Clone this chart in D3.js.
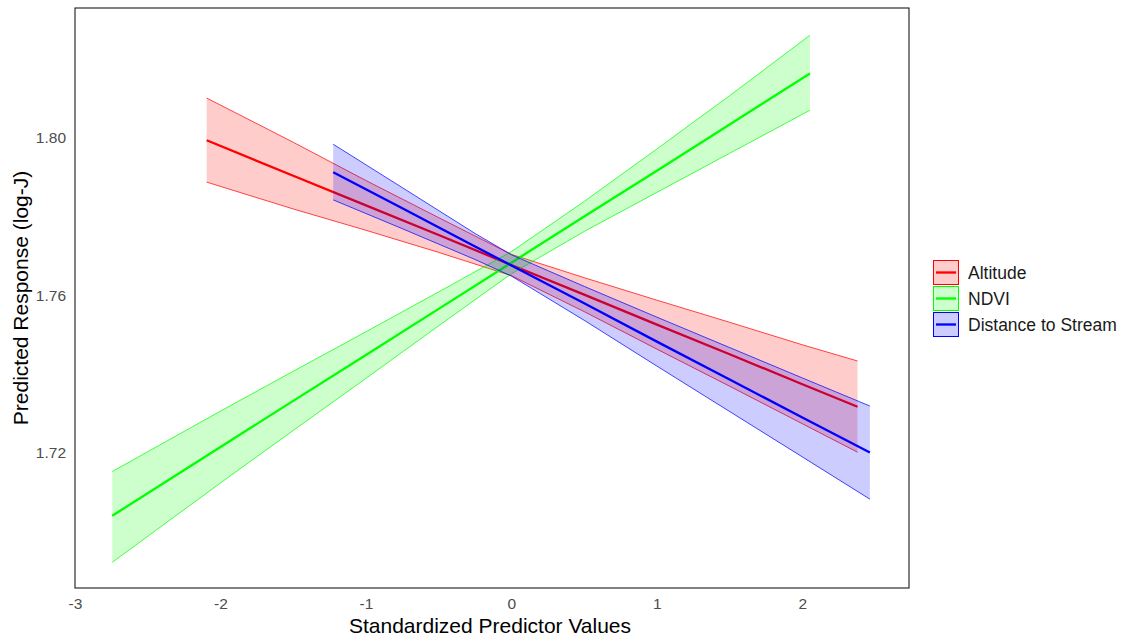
<!DOCTYPE html>
<html>
<head>
<meta charset="utf-8">
<script src="https://cdn.jsdelivr.net/npm/d3@7"></script>
<style>
  html, body { margin: 0; padding: 0; background: #fff; }
  svg { display: block; font-family: "Liberation Sans", Arial, sans-serif; }
</style>
</head>
<body>
<svg id="chart" width="1125" height="639"></svg>
<script>
// Predicted response across standardized predictor values (fit with 95% band)
const seriesNames = ["Altitude", "NDVI", "Distance to Stream"];
const seriesColors = ["#FF0000", "#00FF00", "#0000FF"];

const altitudeX   = [-2.095, -1.5, -1.0, -0.5, 0, 0.5, 1.0, 1.5, 2.0, 2.379];
const altitudeFit = [1.7992, 1.7902, 1.7827, 1.7752, 1.7676, 1.7601, 1.7525, 1.7450, 1.7374, 1.7317];
const altitudeHi  = [1.8099, 1.7987, 1.7890, 1.7796, 1.7703, 1.7644, 1.7587, 1.7531, 1.7474, 1.7433];
const altitudeLo  = [1.7886, 1.7818, 1.7764, 1.7708, 1.7649, 1.7558, 1.7463, 1.7369, 1.7274, 1.7202];

const ndviX   = [-2.744, -2.0, -1.5, -1.0, -0.5, 0, 0.5, 1.0, 1.5, 2.052];
const ndviFit = [1.7041, 1.7215, 1.7332, 1.7448, 1.7565, 1.7682, 1.7799, 1.7915, 1.8032, 1.8161];
const ndviHi  = [1.7153, 1.7306, 1.7407, 1.7507, 1.7608, 1.7710, 1.7837, 1.7970, 1.8105, 1.8258];
const ndviLo  = [1.6923, 1.7124, 1.7257, 1.7389, 1.7522, 1.7654, 1.7761, 1.7860, 1.7959, 1.8068];

const streamX   = [-1.225, -0.75, -0.25, 0, 0.5, 1.0, 1.5, 2.0, 2.464];
const streamFit = [1.7911, 1.7820, 1.7723, 1.7675, 1.7579, 1.7482, 1.7386, 1.7290, 1.7201];
const streamHi  = [1.7982, 1.7872, 1.7756, 1.7702, 1.7622, 1.7544, 1.7467, 1.7390, 1.7319];
const streamLo  = [1.7841, 1.7768, 1.7690, 1.7648, 1.7536, 1.7420, 1.7305, 1.7190, 1.7083];

const xTicks = [-3, -2, -1, 0, 1, 2];
const yTicks = [1.72, 1.76, 1.80];

const xTitle = "Standardized Predictor Values";
const yTitle = "Predicted Response (log-J)";

// assemble per-series point tables
function rows(xs, fit, lo, hi) {
  return xs.map((x, i) => ({ x, fit: fit[i], lo: lo[i], hi: hi[i] }));
}
const series = [
  { name: seriesNames[0], color: seriesColors[0], values: rows(altitudeX, altitudeFit, altitudeLo, altitudeHi) },
  { name: seriesNames[1], color: seriesColors[1], values: rows(ndviX, ndviFit, ndviLo, ndviHi) },
  { name: seriesNames[2], color: seriesColors[2], values: rows(streamX, streamFit, streamLo, streamHi) }
];

const svg = d3.select("#chart");
const panel = { left: 75, top: 8, right: 909, bottom: 588 };

const x = d3.scaleLinear().domain([-3, 2.733]).range([panel.left, panel.right]);
const y = d3.scaleLinear().domain([1.6858, 1.8327]).range([panel.bottom, panel.top]);

const g = svg.append("g");

// bands and fitted lines, one series at a time
const area = d3.area().x(d => x(d.x)).y0(d => y(d.lo)).y1(d => y(d.hi));
const line = d3.line().x(d => x(d.x)).y(d => y(d.fit));
const upper = d3.line().x(d => x(d.x)).y(d => y(d.hi));
const lower = d3.line().x(d => x(d.x)).y(d => y(d.lo));

series.forEach(s => {
  g.append("path")
    .datum(s.values)
    .attr("d", area)
    .attr("fill", s.color)
    .attr("fill-opacity", 0.2)
    .attr("stroke", "none");
  [upper, lower].forEach(edge => {
    g.append("path")
      .datum(s.values)
      .attr("d", edge)
      .attr("fill", "none")
      .attr("stroke", s.color)
      .attr("stroke-width", 0.9)
      .attr("stroke-opacity", 0.8);
  });
  g.append("path")
    .datum(s.values)
    .attr("d", line)
    .attr("fill", "none")
    .attr("stroke", s.color)
    .attr("stroke-width", 2.3);
});

// panel border
svg.append("rect")
  .attr("x", panel.left).attr("y", panel.top)
  .attr("width", panel.right - panel.left).attr("height", panel.bottom - panel.top)
  .attr("fill", "none").attr("stroke", "#1a1a1a").attr("stroke-width", 1.1);

// axes (labels only, no tick marks)
const xAxis = svg.append("g")
  .attr("transform", `translate(0,${panel.bottom})`)
  .call(d3.axisBottom(x).tickValues(xTicks).tickSize(0).tickPadding(10).tickFormat(d => String(d)));
xAxis.select(".domain").remove();
xAxis.selectAll("text").attr("fill", "#4D4D4D").style("font-size", "15.5px")
  .style("font-family", "Liberation Sans, Arial, sans-serif");

const yAxis = svg.append("g")
  .attr("transform", `translate(${panel.left},0)`)
  .call(d3.axisLeft(y).tickValues(yTicks).tickSize(0).tickPadding(9).tickFormat(d3.format(".2f")));
yAxis.select(".domain").remove();
yAxis.selectAll("text").attr("fill", "#4D4D4D").style("font-size", "15.5px")
  .style("font-family", "Liberation Sans, Arial, sans-serif");

// axis titles
svg.append("text")
  .attr("x", 490)
  .attr("y", 633)
  .attr("text-anchor", "middle")
  .style("font-size", "21px")
  .attr("fill", "#000")
  .text(xTitle);

svg.append("text")
  .attr("transform", `translate(28,${(panel.top + panel.bottom) / 2}) rotate(-90)`)
  .attr("text-anchor", "middle")
  .style("font-size", "21px")
  .attr("fill", "#000")
  .text(yTitle);

// legend
const legend = svg.append("g").attr("transform", "translate(933,260)");
series.forEach((s, i) => {
  const row = legend.append("g").attr("transform", `translate(0,${i * 26})`);
  row.append("rect")
    .attr("x", 0.5).attr("y", 0.5).attr("width", 25).attr("height", 24)
    .attr("fill", s.color).attr("fill-opacity", 0.2)
    .attr("stroke", s.color).attr("stroke-width", 1);
  row.append("line")
    .attr("x1", 3).attr("x2", 23).attr("y1", 12.5).attr("y2", 12.5)
    .attr("stroke", s.color).attr("stroke-width", 2.3);
  row.append("text")
    .attr("x", 35).attr("y", 13)
    .attr("dominant-baseline", "central")
    .style("font-size", "17.5px")
    .attr("fill", "#1a1a1a")
    .text(s.name);
});
</script>
</body>
</html>
